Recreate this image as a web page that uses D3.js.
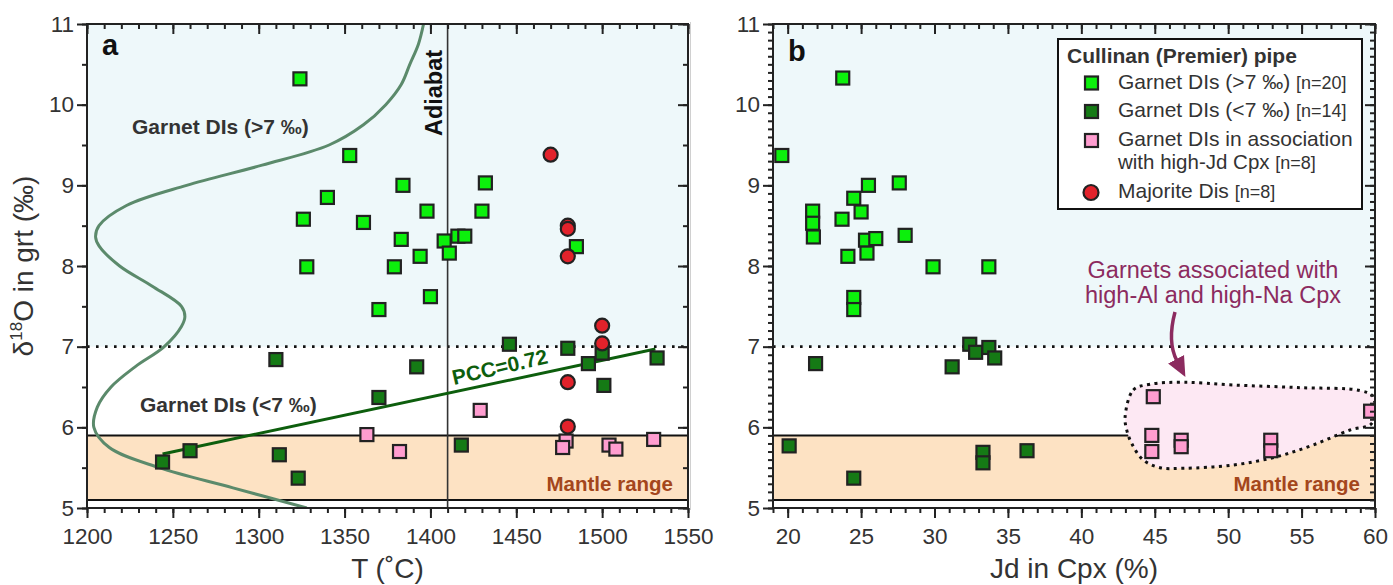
<!DOCTYPE html>
<html><head><meta charset="utf-8">
<script src="https://cdn.jsdelivr.net/npm/d3@7"></script>
<style>
body{margin:0;background:#fff;}
svg{display:block;font-family:"Liberation Sans",Arial,sans-serif;}
</style></head>
<body><svg id="c" width="1393" height="585"></svg>
<script>
// ---------- DATA ----------
// Panel a: temperature (°C) vs δ18O (‰)
const grtHiT = [1324,1353,1384,1340,1398,1326,1361,1383,1408,1416,1420,1394,1411,1328,1379,1400,1432,1430,1485,1370];
const grtHiD = [10.32,9.37,9.00,8.85,8.68,8.58,8.54,8.33,8.31,8.37,8.37,8.12,8.16,7.99,7.99,7.62,9.03,8.68,8.24,7.46];
const grtLoT = [1310,1392,1370,1244,1260,1312,1323,1418,1446,1480,1492,1500,1501,1532];
const grtLoD = [6.84,6.75,6.37,5.57,5.71,5.66,5.37,5.78,7.03,6.98,6.79,6.92,6.52,6.86];
const pinkT  = [1479,1363,1382,1429,1477,1504,1508,1530];
const pinkD  = [5.83,5.91,5.70,6.21,5.75,5.78,5.73,5.85];
const majT   = [1470,1480,1480,1480,1500,1500,1480,1480];
const majD   = [9.38,8.50,8.46,8.12,7.26,7.04,6.56,6.01];
// regression (PCC=0.72) end points
const pccT = [1244,1531];
const pccD = [5.67,6.97];
// density curve of δ18O (drawn sideways)
const curveD = [11.0,10.75,10.5,10.25,10.0,9.75,9.5,9.25,9.0,8.75,8.5,8.36,8.25,8.0,7.75,7.5,7.37,7.25,7.0,6.75,6.5,6.25,6.0,5.75,5.5,5.25,5.0];
const curveT = [1396,1393,1388,1383,1374,1361,1341,1302,1258,1223,1207,1205,1207,1219,1238,1255,1257,1255,1245,1228,1214,1206,1204,1213,1242,1285,1328];
const adiabatT = 1410;

// Panel b: Jd in Cpx (%) vs δ18O (‰)
const jdHi  = [23.75,19.6,27.6,25.5,24.5,21.7,25.0,23.7,21.7,21.75,28.0,25.3,26.0,24.1,25.4,29.9,33.7,24.5,24.5];
const jdHiD = [10.33,9.37,9.03,9.00,8.84,8.68,8.67,8.58,8.53,8.36,8.38,8.32,8.34,8.12,8.16,7.99,7.99,7.61,7.46];
const jdLo  = [21.9,31.2,32.4,32.8,33.7,34.1,20.1,24.5,33.3,33.3,36.3];
const jdLoD = [6.79,6.75,7.03,6.93,6.99,6.86,5.77,5.37,5.69,5.56,5.71];
const jdPink  = [44.9,44.8,44.8,46.8,46.8,52.9,52.9,59.7];
const jdPinkD = [6.38,5.90,5.70,5.84,5.76,5.84,5.71,6.20];
// outline of the high-Jd field
const blobJd = [42.98,43.54,44.68,46.95,50.35,54.90,58.99,59.87,59.78,58.3,55.78,53.31,50.35,46.93,45.36,44.22,43.43,43.09];
const blobD  = [6.13,6.463,6.534,6.559,6.525,6.492,6.455,6.38,6.05,5.967,5.781,5.636,5.533,5.492,5.50,5.595,5.80,5.967];

// thresholds
const hiLimit = 7, mantleTop = 5.9, mantleBot = 5.1;

// ticks
const xTicksA = [1200,1250,1300,1350,1400,1450,1500,1550];
const xTicksB = [20,25,30,35,40,45,50,55,60];
const yTicks  = [5,6,7,8,9,10,11];

// legend
const legendTitle = "Cullinan (Premier) pipe";

// ---------- STYLE ----------
const C = {
  hi:"#0cf00c", lo:"#157a15", pink:"#ff9dd0", maj:"#e2222b", edge:"#222",
  blue:"#eef8fa", mantle:"#fde2c3", txt:"#333", brown:"#a4461c",
  curve:"#5b8a6b", pcc:"#0d5e0d", purple:"#8c2b5f", blob:"#fde8f3"
};

const svg = d3.select("#c");
const yS = d3.scaleLinear().domain([5,11]).range([508,24]);
const xA = d3.scaleLinear().domain([1200,1550]).range([87,688]);
const xB = d3.scaleLinear().domain([19,60]).range([773,1375]);

const defs = svg.append("defs");
function clip(id,x){
  defs.append("clipPath").attr("id",id).append("rect")
    .attr("x",x.range()[0]).attr("y",yS.range()[1])
    .attr("width",x.range()[1]-x.range()[0]).attr("height",yS.range()[0]-yS.range()[1]);
}
clip("ca",xA); clip("cb",xB);

// faint separator
svg.append("line").attr("x1",690.5).attr("x2",690.5).attr("y1",22).attr("y2",510)
  .attr("stroke","#d0d0d0").attr("stroke-width",1);

function backgrounds(g,x){
  const x0=x.range()[0], w=x.range()[1]-x.range()[0];
  g.append("rect").attr("x",x0).attr("width",w).attr("y",yS(11)).attr("height",yS(hiLimit)-yS(11)).attr("fill",C.blue);
  g.append("rect").attr("x",x0).attr("width",w).attr("y",yS(mantleTop)).attr("height",yS(mantleBot)-yS(mantleTop)).attr("fill",C.mantle);
}
function refLines(g,x){
  const [x0,x1]=x.range();
  g.append("line").attr("x1",x0).attr("x2",x1).attr("y1",yS(hiLimit)).attr("y2",yS(hiLimit))
    .attr("stroke","#111").attr("stroke-width",2.6).attr("stroke-dasharray","2.6,6.4");
  [mantleTop,mantleBot].forEach(v=>g.append("line").attr("x1",x0).attr("x2",x1).attr("y1",yS(v)).attr("y2",yS(v))
    .attr("stroke","#111").attr("stroke-width",2));
}

function axes(g,x,xMajor,xMinorStep,yMinorStep,yRightStep){
  const [x0,x1]=x.range(), [yb,yt]=yS.range();
  const xd=x.domain();
  const xMinor=d3.range(Math.ceil(xd[0]/xMinorStep)*xMinorStep, xd[1]+1e-9, xMinorStep);
  const yMinor=d3.range(5,11+1e-9,yMinorStep);
  const yRight=d3.range(5,11+1e-9,yRightStep);
  const clean=s=>{s.select(".domain").remove(); s.selectAll("line").attr("stroke","#222").attr("stroke-width",2);};
  const lab=s=>s.selectAll("text").attr("fill",C.txt).attr("font-size",22.5).attr("font-family","Liberation Sans, Arial, sans-serif");
  // bottom
  g.append("g").attr("transform",`translate(0,${yb})`).call(d3.axisBottom(x).tickValues(xMinor).tickSize(5).tickFormat("")).call(clean);
  g.append("g").attr("transform",`translate(0,${yb})`).call(d3.axisBottom(x).tickValues(xMajor).tickSize(10).tickPadding(10).tickFormat(d3.format("d"))).call(clean).call(lab);
  // top (inward)
  g.append("g").attr("transform",`translate(0,${yt})`).call(d3.axisTop(x).tickValues(xMinor).tickSize(-5).tickFormat("")).call(clean);
  g.append("g").attr("transform",`translate(0,${yt})`).call(d3.axisTop(x).tickValues(xMajor).tickSize(-10).tickFormat("")).call(clean);
  // left
  g.append("g").attr("transform",`translate(${x0},0)`).call(d3.axisLeft(yS).tickValues(yMinor).tickSize(5).tickFormat("")).call(clean);
  g.append("g").attr("transform",`translate(${x0},0)`).call(d3.axisLeft(yS).tickValues(yTicks).tickSize(10).tickPadding(3).tickFormat(d3.format("d"))).call(clean).call(lab);
  // right (inward)
  g.append("g").attr("transform",`translate(${x1},0)`).call(d3.axisRight(yS).tickValues(yRight).tickSize(-5).tickFormat("")).call(clean);
  g.append("g").attr("transform",`translate(${x1},0)`).call(d3.axisRight(yS).tickValues(yTicks).tickSize(-10).tickFormat("")).call(clean);
  // frame
  g.append("rect").attr("x",x0).attr("y",yt).attr("width",x1-x0).attr("height",yb-yt)
    .attr("fill","none").attr("stroke","#222").attr("stroke-width",2);
}

function squares(g,x,xs,ys,fill){
  g.selectAll(null).data(xs.map((v,i)=>[v,ys[i]])).enter().append("rect")
    .attr("x",d=>x(d[0])-6.5).attr("y",d=>yS(d[1])-6.5).attr("width",13).attr("height",13)
    .attr("fill",fill).attr("stroke",C.edge).attr("stroke-width",2.2);
}
function circles(g,x,xs,ys){
  g.selectAll(null).data(xs.map((v,i)=>[v,ys[i]])).enter().append("circle")
    .attr("cx",d=>x(d[0])).attr("cy",d=>yS(d[1])).attr("r",7)
    .attr("fill",C.maj).attr("stroke",C.edge).attr("stroke-width",2.2);
}

// ---------- PANEL A ----------
const ga = svg.append("g");
const gaIn = ga.append("g").attr("clip-path","url(#ca)");
backgrounds(gaIn,xA);
refLines(gaIn,xA);
gaIn.append("line").attr("x1",xA(adiabatT)).attr("x2",xA(adiabatT)).attr("y1",yS(11)).attr("y2",yS(5))
  .attr("stroke","#333").attr("stroke-width",1.6);
gaIn.append("path").datum(curveD.map((d,i)=>[curveT[i],d]))
  .attr("d",d3.line().x(d=>xA(d[0])).y(d=>yS(d[1])).curve(d3.curveCatmullRom))
  .attr("fill","none").attr("stroke",C.curve).attr("stroke-width",3);
gaIn.append("line").attr("x1",xA(pccT[0])).attr("y1",yS(pccD[0])).attr("x2",xA(pccT[1])).attr("y2",yS(pccD[1]))
  .attr("stroke",C.pcc).attr("stroke-width",3);
squares(gaIn,xA,grtHiT,grtHiD,C.hi);
squares(gaIn,xA,grtLoT,grtLoD,C.lo);
squares(gaIn,xA,pinkT,pinkD,C.pink);
circles(gaIn,xA,majT,majD);
axes(ga,xA,xTicksA,10,0.5,0.5);

ga.append("text").attr("x",102).attr("y",55).attr("font-size",29).attr("font-weight","bold").attr("fill","#111").text("a");
ga.append("text").attr("transform","translate(442,93) rotate(-90)").attr("text-anchor","middle")
  .attr("font-size",23.5).attr("font-weight","bold").attr("fill","#111").text("Adiabat");
ga.append("text").attr("x",132).attr("y",134).attr("font-size",21).attr("font-weight","bold").attr("fill",C.txt).text("Garnet DIs (>7 ‰)");
ga.append("text").attr("x",140).attr("y",412).attr("font-size",21).attr("font-weight","bold").attr("fill",C.txt).text("Garnet DIs (<7 ‰)");
ga.append("text").attr("x",673).attr("y",491).attr("text-anchor","end").attr("font-size",20.5).attr("font-weight","bold").attr("fill",C.brown).text("Mantle range");
ga.append("text").attr("transform","translate(454,385) rotate(-13)").attr("font-size",21).attr("font-weight","bold")
  .attr("fill",C.pcc).text("PCC=0.72");
// axis titles
ga.append("text").attr("x",387.5).attr("y",578).attr("text-anchor","middle").attr("font-size",28).attr("fill",C.txt).text("T (˚C)");
const yl = svg.append("text").attr("transform","translate(33,266) rotate(-90)").attr("text-anchor","middle")
  .attr("font-size",28).attr("fill",C.txt);
yl.append("tspan").text("δ");
yl.append("tspan").attr("font-size",17).attr("dy",-11).text("18");
yl.append("tspan").attr("dy",11).text("O in grt (‰)");

// ---------- PANEL B ----------
const gb = svg.append("g");
const gbIn = gb.append("g").attr("clip-path","url(#cb)");
backgrounds(gbIn,xB);
refLines(gbIn,xB);
gbIn.append("path").datum(blobJd.map((v,i)=>[v,blobD[i]]))
  .attr("d",d3.line().x(d=>xB(d[0])).y(d=>yS(d[1])).curve(d3.curveCatmullRomClosed))
  .attr("fill",C.blob).attr("stroke","#111").attr("stroke-width",3).attr("stroke-dasharray","3,4.5");
squares(gbIn,xB,jdHi,jdHiD,C.hi);
squares(gbIn,xB,jdLo,jdLoD,C.lo);
squares(gbIn,xB,jdPink,jdPinkD,C.pink);
axes(gb,xB,xTicksB,1,0.1,0.1);

gb.append("text").attr("x",788).attr("y",61).attr("font-size",29).attr("font-weight","bold").attr("fill","#111").text("b");
gb.append("text").attr("x",1360).attr("y",491).attr("text-anchor","end").attr("font-size",20.5).attr("font-weight","bold").attr("fill",C.brown).text("Mantle range");
gb.append("text").attr("x",1074).attr("y",578).attr("text-anchor","middle").attr("font-size",28).attr("fill",C.txt).text("Jd in Cpx (%)");

// annotation
gb.append("text").attr("x",1213).attr("y",278).attr("text-anchor","middle").attr("font-size",23.5).attr("fill",C.purple).text("Garnets associated with");
gb.append("text").attr("x",1213).attr("y",303).attr("text-anchor","middle").attr("font-size",23.5).attr("fill",C.purple).text("high-Al and high-Na Cpx");
defs.append("marker").attr("id","arr").attr("markerUnits","userSpaceOnUse").attr("viewBox","0 -10 20 20")
  .attr("markerWidth",20).attr("markerHeight",20).attr("refX",2).attr("refY",0).attr("orient","auto")
  .append("path").attr("d","M0,-9 L20,0 L0,9 Z").attr("fill",C.purple);
gb.append("path").attr("d","M1175,312 Q1167,342 1177,361").attr("fill","none")
  .attr("stroke",C.purple).attr("stroke-width",3.5).attr("marker-end","url(#arr)");

// legend
const lg = gb.append("g");
lg.append("rect").attr("x",1058).attr("y",39).attr("width",304).attr("height",170).attr("fill","#fff").attr("stroke","#111").attr("stroke-width",2);
lg.append("text").attr("x",1067).attr("y",63).attr("font-size",21).attr("font-weight","bold").attr("fill",C.txt).text(legendTitle);
const legItems = [
  {type:"sq",fill:C.hi,y:83,lines:[["Garnet DIs (>7 ‰) ","[n=20]"]]},
  {type:"sq",fill:C.lo,y:111.5,lines:[["Garnet DIs (<7 ‰) ","[n=14]"]]},
  {type:"sq",fill:C.pink,y:140.5,lines:[["Garnet DIs in association",""],["with high-Jd Cpx ","[n=8]"]]},
  {type:"ci",fill:C.maj,y:192.5,lines:[["Majorite Dis ","[n=8]"]]}
];
legItems.forEach(it=>{
  if(it.type==="sq") lg.append("rect").attr("x",1085).attr("y",it.y-6.5).attr("width",13).attr("height",13)
      .attr("fill",it.fill).attr("stroke",C.edge).attr("stroke-width",2.2);
  else lg.append("circle").attr("cx",1091).attr("cy",it.y).attr("r",7.5).attr("fill",it.fill).attr("stroke",C.edge).attr("stroke-width",2.2);
  it.lines.forEach((ln,k)=>{
    const t=lg.append("text").attr("x",1118).attr("y",it.y+5.5+k*22.5).attr("font-size",k>0?20.5:21).attr("fill",C.txt);
    t.append("tspan").text(ln[0]);
    if(ln[1]) t.append("tspan").attr("font-size",18).text(ln[1]);
  });
});
</script></body></html>
